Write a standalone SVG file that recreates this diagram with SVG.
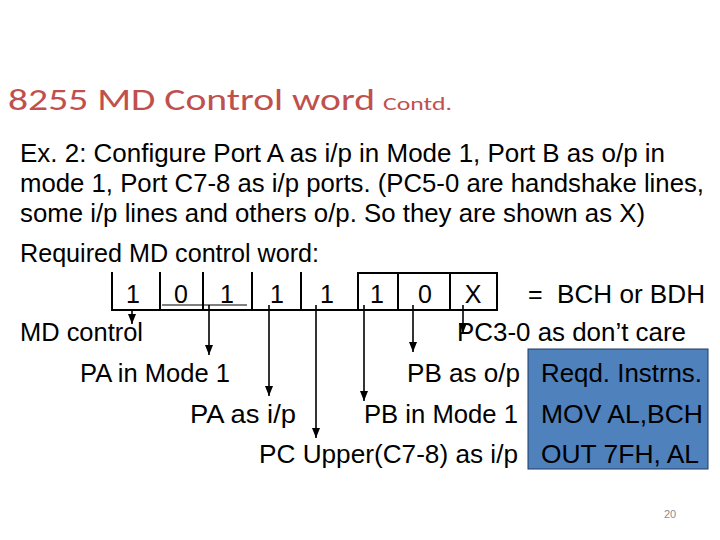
<svg xmlns="http://www.w3.org/2000/svg" width="720" height="540" viewBox="0 0 720 540">
  <style>
    .title { font-family: Carlito, Lato, "Open Sans", sans-serif; fill: #C0504D; }
    .t { font-family: "Liberation Sans", Arial, sans-serif; font-size: 25px; fill: #000; }
    .d { font-family: "Liberation Sans", Arial, sans-serif; font-size: 25px; fill: #000; text-anchor: middle; }
    .frame { stroke: #000; stroke-width: 2; fill: none; }
    .conn { stroke: #000; stroke-width: 1.6; fill: none; marker-end: url(#ah); }
    .pn { font-family: "Liberation Sans", Arial, sans-serif; font-size: 11px; fill: #8c8c8c; }
  </style>
  <defs>
    <marker id="ah" markerUnits="userSpaceOnUse" markerWidth="8" markerHeight="10" viewBox="0 0 8 10" refX="4" refY="10" orient="auto-start-reverse">
      <path d="M0,0 L8,0 L4,10 Z" fill="#000" transform="rotate(-90 4 5) translate(-1 1)"/>
    </marker>
    <marker id="ahd" markerUnits="userSpaceOnUse" markerWidth="8" markerHeight="10" viewBox="0 0 8 10" refX="4" refY="10" orient="0">
      <path d="M0,0 L8,0 L4,10 Z" fill="#000"/>
    </marker>
  </defs>
  <rect width="720" height="540" fill="#fff"/>

  <g id="title">
    <text class="title" x="8" y="110" font-size="31" textLength="367" lengthAdjust="spacingAndGlyphs">8255 MD Control word</text>
    <text class="title" x="383" y="110" font-size="18" textLength="69" lengthAdjust="spacingAndGlyphs">Contd.</text>
  </g>

  <g id="description">
    <text class="t" x="20" y="162" textLength="645" lengthAdjust="spacingAndGlyphs">Ex. 2: Configure Port A as i/p in Mode 1, Port B as o/p in</text>
    <text class="t" x="20" y="192" textLength="684" lengthAdjust="spacingAndGlyphs">mode 1, Port C7-8 as i/p ports. (PC5-0 are handshake lines,</text>
    <text class="t" x="20" y="222" textLength="625" lengthAdjust="spacingAndGlyphs">some i/p lines and others o/p. So they are shown as X)</text>
    <text class="t" x="20" y="262" textLength="299" lengthAdjust="spacingAndGlyphs">Required MD control word:</text>
  </g>

  <g id="control-word">
    <path class="frame" d="M112,272 V310 H497 M160,272 V310 M203,272 V310 M252,272 V310 M301,272 V310"/>
    <rect class="frame" x="358" y="273" width="139" height="37"/>
    <path class="frame" d="M398,273 V310 M450,273 V310"/>
    <line x1="162" y1="305" x2="247" y2="305" stroke="#000" stroke-width="1"/>
    <text class="d" x="133" y="303">1</text>
    <text class="d" x="181" y="303">0</text>
    <text class="d" x="227" y="303">1</text>
    <text class="d" x="277" y="303">1</text>
    <text class="d" x="327" y="303">1</text>
    <text class="d" x="377" y="303">1</text>
    <text class="d" x="425" y="303">0</text>
    <text class="d" x="473" y="303">X</text>
    <text class="t" x="528" y="303">=</text>
    <text class="t" x="557" y="303" textLength="148" lengthAdjust="spacingAndGlyphs">BCH or BDH</text>
  </g>

  <g id="connectors">
    <line x1="132" y1="310" x2="132" y2="324" stroke="#000" stroke-width="1.6" marker-end="url(#ahd)"/>
    <line x1="209" y1="305" x2="209" y2="355" stroke="#000" stroke-width="1.6" marker-end="url(#ahd)"/>
    <line x1="269" y1="305" x2="269" y2="396" stroke="#000" stroke-width="1.6" marker-end="url(#ahd)"/>
    <line x1="316" y1="305" x2="316" y2="438" stroke="#000" stroke-width="1.6" marker-end="url(#ahd)"/>
    <line x1="364" y1="305" x2="364" y2="401" stroke="#000" stroke-width="1.6" marker-end="url(#ahd)"/>
    <line x1="413" y1="305" x2="413" y2="352" stroke="#000" stroke-width="1.6" marker-end="url(#ahd)"/>
    <line x1="463" y1="305" x2="463" y2="333" stroke="#000" stroke-width="1.6" marker-end="url(#ahd)"/>
  </g>

  <g id="label-md-control"><text class="t" x="20" y="341" textLength="123" lengthAdjust="spacingAndGlyphs">MD control</text></g>
  <g id="label-pc3-0"><text class="t" x="457" y="341" textLength="229" lengthAdjust="spacingAndGlyphs">PC3-0 as don’t care</text></g>
  <g id="label-pa-mode"><text class="t" x="80" y="382" textLength="150" lengthAdjust="spacingAndGlyphs">PA in Mode 1</text></g>
  <g id="label-pb-op"><text class="t" x="407" y="382" textLength="113" lengthAdjust="spacingAndGlyphs">PB as o/p</text></g>
  <g id="label-pa-ip"><text class="t" x="190" y="423" textLength="106" lengthAdjust="spacingAndGlyphs">PA as i/p</text></g>
  <g id="label-pb-mode"><text class="t" x="364" y="423" textLength="154" lengthAdjust="spacingAndGlyphs">PB in Mode 1</text></g>
  <g id="label-pc-upper"><text class="t" x="259" y="463" textLength="259" lengthAdjust="spacingAndGlyphs">PC Upper(C7-8) as i/p</text></g>

  <g id="instructions">
    <rect x="528" y="349" width="180" height="120" fill="#4F81BD" stroke="#1F3A60" stroke-width="1"/>
    <text class="t" x="541" y="382" textLength="161" lengthAdjust="spacingAndGlyphs">Reqd. Instrns.</text>
    <text class="t" x="541" y="423" textLength="162" lengthAdjust="spacingAndGlyphs">MOV AL,BCH</text>
    <text class="t" x="541" y="463" textLength="158" lengthAdjust="spacingAndGlyphs">OUT 7FH, AL</text>
  </g>

  <g id="page-number"><text class="pn" x="664" y="518">20</text></g>
</svg>
